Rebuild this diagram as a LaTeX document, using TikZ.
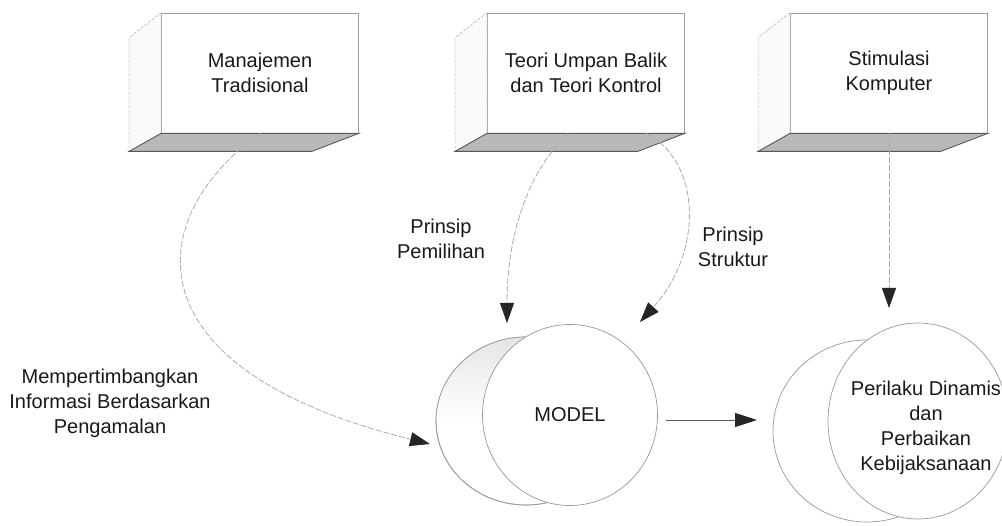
\documentclass[tikz,border=0pt]{standalone}
\usepackage{fontspec}
\setmainfont{Liberation Sans}
\usetikzlibrary{arrows.meta,shapes.geometric,calc}

% side and bottom faces of a box whose front face is the node #1
\newcommand\drawboxfaces[1]{%
  \draw[sideface] (#1.north west) -- ++(-32,25) -- ($(#1.south west)+(-32,18)$)
    -- (#1.south west) -- cycle;
  \draw[bottomface] (#1.south west) -- (#1.south east) -- ++(-47,18)
    -- ($(#1.south west)+(-32,18)$) -- cycle;
}

\begin{document}
\begin{tikzpicture}[x=1pt,y=-1pt,
  txt/.style={font=\fontsize{20}{25}\selectfont, align=center, text=black!90},
  frontface/.style={draw=gray!75, line width=0.7pt, fill=white,
    minimum width=197pt, minimum height=120pt, inner sep=0pt},
  sideface/.style={draw=gray!55, line width=0.6pt, dash pattern=on 3pt off 1.5pt, fill=gray!4},
  bottomface/.style={draw=black!65, line width=0.9pt, fill=gray!55},
  endface/.style={ellipse, draw=gray!80, line width=0.7pt, fill=white, inner sep=0pt},
  backface/.style={draw=gray!80, line width=0.7pt, fill=white},
  link/.style={draw=gray!65, line width=0.8pt, dash pattern=on 6pt off 2pt,
    -{Triangle[length=20pt,width=14pt,color=black!85]}},
  flow/.style={draw=black!65, line width=0.9pt,
    -{Triangle[length=22pt,width=14pt,color=black!85]}}
]
\useasboundingbox (0,0) rectangle (1002,526);
\clip (0,0) rectangle (1002,526);
\fill[white] (0,0) rectangle (1002,526);

% three source boxes
\node[frontface] (b1) at (260,73) {};
\node[frontface] (b2) at (586,73) {};
\node[frontface] (b3) at (889,73) {};
\drawboxfaces{b1}
\drawboxfaces{b2}
\drawboxfaces{b3}
\node[txt] at (b1) {Manajemen\\Tradisional};
\node[txt] at (b2) {Teori Umpan Balik\\dan Teori Kontrol};
\node[txt] at (b3) {Stimulasi\\Komputer};

% MODEL cylinder: back face with a lightly tinted upper crescent
\draw[backface] (526,421) ellipse [x radius=90pt, y radius=84pt];
\begin{scope}
  \clip (526,421) ellipse [x radius=90pt, y radius=84pt];
  \shade[top color=gray!22, bottom color=white] (430,330) rectangle (560,420);
\end{scope}
\draw[draw=gray!80, line width=0.7pt] (526,421) ellipse [x radius=90pt, y radius=84pt];
\node[endface, minimum width=175pt, minimum height=181pt] (model) at (570,415) {};
\node[txt] at (model) {MODEL};

% result cylinder
\draw[backface] (867,431) ellipse [x radius=94pt, y radius=91pt];
\node[endface, minimum width=180pt, minimum height=196pt] (res) at (918,421) {};
\node[txt] at (926,428) {Perilaku Dinamis\\dan\\Perbaikan\\Kebijaksanaan};

% arrow end points
\coordinate (in1) at (430,444);
\coordinate (in2) at (507,323);
\coordinate (in3) at (640,322);
\coordinate (in4) at (889,308);
\coordinate (in5) at (757,420);

% connectors
\draw[link] (b1.south) .. controls (140,220) and (130,370) .. (in1);
\draw[link] ($(b2.south)+(-18,0)$) .. controls (525,175) and (507,240) .. (in2);
\draw[link] ($(b2.south)+(60,0)$) .. controls (700,160) and (705,250) .. (in3);
\draw[link] (b3.south) -- (in4);
\draw[flow] ($(model.east)+(8,5)$) -- (in5);

% connector labels
\node[txt] at (110,403) {Mempertimbangkan\\Informasi Berdasarkan\\Pengamalan};
\node[txt] at (441,239) {Prinsip\\Pemilihan};
\node[txt] at (733,247) {Prinsip\\Struktur};
\end{tikzpicture}
\end{document}
